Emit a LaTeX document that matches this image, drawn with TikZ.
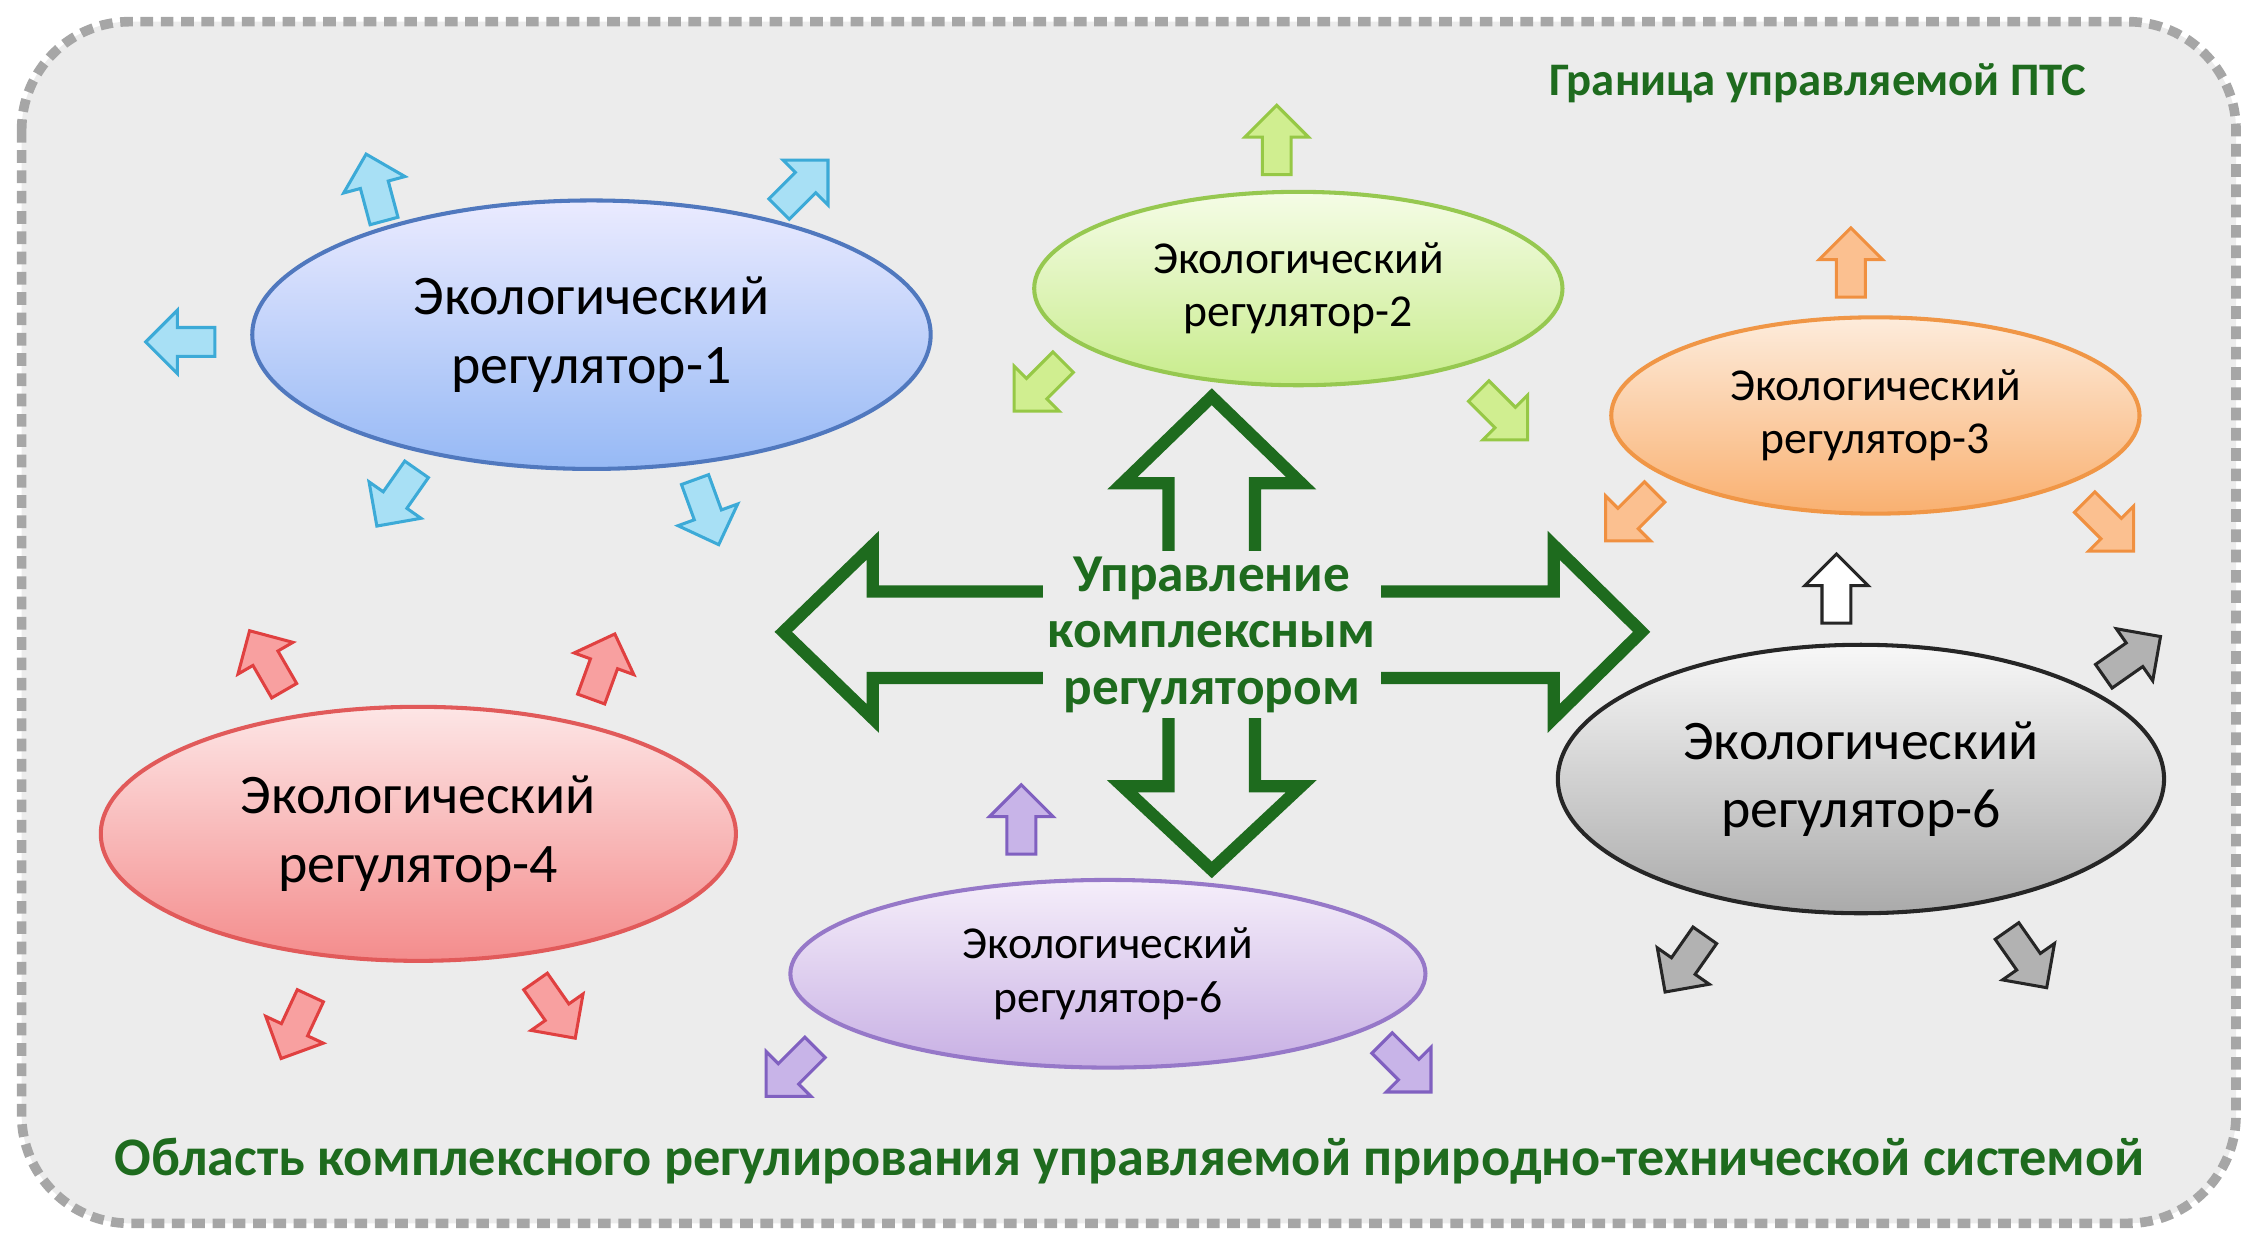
\documentclass[tikz,border=0pt]{standalone}
\usepackage{fontspec}
\setmainfont{Carlito}
\usetikzlibrary{shapes.geometric}
\definecolor{dg}{HTML}{1E6B1E}
\definecolor{bF}{RGB}{168,224,245}\definecolor{bD}{RGB}{60,170,215}
\definecolor{gF}{RGB}{208,238,144}\definecolor{gD}{RGB}{150,200,70}
\definecolor{oF}{RGB}{251,192,144}\definecolor{oD}{RGB}{240,144,64}
\definecolor{rF}{RGB}{248,160,160}\definecolor{rD}{RGB}{224,64,64}
\definecolor{pF}{RGB}{200,180,232}\definecolor{pD}{RGB}{128,96,192}
\tikzset{
  reg/.style={ellipse,draw,line width=0.8pt,align=center,inner sep=0pt},
  barrow/.style={line width=0.6pt,line join=miter},
  big/.style={font=\fontsize{11}{13.5}\selectfont},
  small/.style={font=\fontsize{9}{10.5}\selectfont},
}
\newcommand{\barr}[6]{% x y angle fill draw name
  \begin{scope}[shift={(#1,#2)},rotate=#3]
  \draw[barrow,fill=#4,draw=#5] (-24,-10) -- (2,-10) -- (2,-22) -- (24,0) -- (2,22) -- (2,10) -- (-24,10) -- cycle;
  \coordinate (#6) at (0,0);
  \end{scope}}
\begin{document}
\begin{tikzpicture}[x=0.01cm,y=-0.01cm]
\useasboundingbox (0,0) rectangle (1568,863);
\draw[fill=gray!15,draw=gray!70,line width=1.9pt,dash pattern=on 2.5pt off 1.5pt,rounded corners=0.75cm] (15,15) rectangle (1550,848);
\node[text=dg,font=\bfseries\fontsize{9.2}{10}\selectfont] (lbl) at (1260,58) {Граница управляемой ПТС};
\node[text=dg,font=\bfseries\fontsize{10.7}{12}\selectfont] (title) at (783,805) {Область комплексного регулирования управляемой природно-технической системой};
\draw[draw=dg,line width=2.4pt,line join=miter]
 (840,275) -- (902,335) -- (870,335) -- (870,410) -- (1077,410) -- (1077,378) -- (1138,438) -- (1077,498) -- (1077,470) -- (870,470) -- (870,545) -- (902,545) -- (840,603) -- (778,545) -- (810,545) -- (810,470) -- (605,470) -- (605,498) -- (543,438) -- (605,378) -- (605,410) -- (810,410) -- (810,335) -- (778,335) -- cycle;
\node[text=dg,fill=gray!15,inner sep=1pt,font=\bfseries\fontsize{10.5}{11.2}\selectfont,align=center] (ctr) at (840,440) {Управление\\комплексным\\регулятором};
\node[reg,big,minimum width=4.70cm,minimum height=1.86cm,top color=blue!8,bottom color={rgb,255:red,150;green,185;blue,245},draw={rgb,255:red,80;green,120;blue,190}] (r1) at (410,232) {Экологический\\регулятор-1};
\node[reg,small,minimum width=3.66cm,minimum height=1.34cm,top color={rgb,255:red,245;green,252;blue,230},bottom color={rgb,255:red,200;green,236;blue,140},draw={rgb,255:red,150;green,200;blue,80}] (r2) at (900,200) {Экологический\\регулятор-2};
\node[reg,small,minimum width=3.66cm,minimum height=1.36cm,top color={rgb,255:red,253;green,236;blue,220},bottom color={rgb,255:red,249;green,176;blue,112},draw={rgb,255:red,240;green,150;blue,70}] (r3) at (1300,288) {Экологический\\регулятор-3};
\node[reg,big,minimum width=4.40cm,minimum height=1.76cm,top color={rgb,255:red,253;green,230;blue,230},bottom color={rgb,255:red,244;green,140;blue,140},draw={rgb,255:red,225;green,90;blue,90}] (r4) at (290,578) {Экологический\\регулятор-4};
\node[reg,small,minimum width=4.40cm,minimum height=1.30cm,top color={rgb,255:red,245;green,238;blue,250},bottom color={rgb,255:red,200;green,176;blue,228},draw={rgb,255:red,150;green,120;blue,200}] (r5) at (768,675) {Экологический\\регулятор-6};
\node[reg,big,minimum width=4.20cm,minimum height=1.86cm,top color={rgb,255:red,248;green,248;blue,248},bottom color={rgb,255:red,170;green,170;blue,170},draw=black!85] (r6) at (1290,540) {Экологический\\регулятор-6};
\barr{260}{130}{105}{bF}{bD}{a1}
\barr{557}{128}{45}{bF}{bD}{a2}
\barr{125}{237}{180}{bF}{bD}{a3}
\barr{275}{345}{235}{bF}{bD}{a4}
\barr{490}{355}{290}{bF}{bD}{a5}
\barr{885}{97}{90}{gF}{gD}{a6}
\barr{720}{268}{225}{gF}{gD}{a7}
\barr{1042}{288}{315}{gF}{gD}{a8}
\barr{1283}{182}{90}{oF}{oD}{a9}
\barr{1130}{358}{225}{oF}{oD}{a10}
\barr{1462}{365}{315}{oF}{oD}{a11}
\barr{1273}{408}{90}{white}{black!85}{a12}
\barr{1478}{455}{35}{black!30}{black!85}{a13}
\barr{1168}{668}{235}{black!30}{black!85}{a14}
\barr{1405}{665}{305}{black!30}{black!85}{a15}
\barr{185}{458}{120}{rF}{rD}{a16}
\barr{418}{462}{70}{rF}{rD}{a17}
\barr{205}{712}{245}{rF}{rD}{a18}
\barr{385}{700}{305}{rF}{rD}{a19}
\barr{708}{568}{90}{pF}{pD}{a20}
\barr{548}{743}{225}{pF}{pD}{a21}
\barr{975}{740}{315}{pF}{pD}{a22}
\end{tikzpicture}
\end{document}
